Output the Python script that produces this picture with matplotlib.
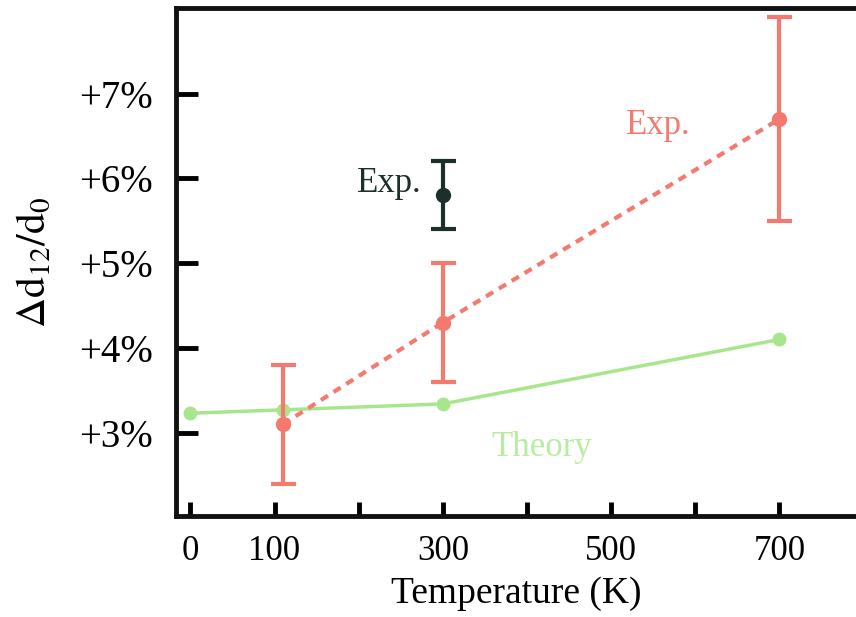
import matplotlib
matplotlib.use("Agg")
import matplotlib.pyplot as plt

plt.rcParams['font.family'] = ['Liberation Serif', 'DejaVu Serif']
plt.rcParams['mathtext.fontset'] = 'stix'

# Theory curve
theory_T = [0, 110, 300, 700]
theory_d = [3.23, 3.27, 3.34, 4.10]

# Experiment (dashed series)
exp_T = [110, 300, 700]
exp_d = [3.1, 4.3, 6.7]
exp_err_lo = [0.7, 0.7, 1.2]
exp_err_hi = [0.7, 0.7, 1.2]

# Single earlier experiment at room temperature
old_T = [300]
old_d = [5.8]
old_err = [0.4]

x_ticks = [0, 100, 200, 300, 400, 500, 600, 700]
x_labels = ['0', '100', '', '300', '', '500', '', '700']
y_ticks = [3, 4, 5, 6, 7]
y_labels = ['+3%', '+4%', '+5%', '+6%', '+7%']

red = '#f47a70'
green = '#a8e68e'
dark = '#1d2f2a'

fig = plt.figure(figsize=(8.56, 6.17), dpi=100)
ax = fig.add_axes([0.206, 0.164, 0.794, 0.823])

ax.plot(theory_T, theory_d, color=green, lw=2.5, marker='o', ms=9, zorder=2)
ax.errorbar(exp_T, exp_d, yerr=[exp_err_lo, exp_err_hi], color=red, lw=3,
            ls=(0, (2, 1.6)), marker='o', ms=10, capsize=9, capthick=3,
            elinewidth=3, zorder=3)
ax.errorbar(old_T, old_d, yerr=old_err, color=dark, lw=3, marker='o', ms=10,
            capsize=9, capthick=3, elinewidth=3, zorder=3)

ax.text(556, 6.63, 'Exp.', color=red, fontsize=25, ha='center', va='center')
ax.text(236, 5.94, 'Exp.', color=dark, fontsize=25, ha='center', va='center')
ax.text(418, 2.83, 'Theory', color='#b8eca2', fontsize=25, ha='center', va='center')

ax.set_xlim(-16.7, 791)
ax.set_ylim(2.02, 8.01)
ax.set_xticks(x_ticks)
ax.set_xticklabels(x_labels)
ax.set_yticks(y_ticks)
ax.set_yticklabels(y_labels)
ax.tick_params(axis='x', direction='in', length=10, width=3.5, labelsize=25, pad=14)
ax.tick_params(axis='y', direction='in', length=16, width=3.5, labelsize=28, pad=17)

ax.spines['right'].set_visible(False)
for side in ['left', 'top', 'bottom']:
    ax.spines[side].set_linewidth(3.5)
    ax.spines[side].set_color('#111111')

ax.set_xlabel('Temperature (K)', fontsize=27, labelpad=6)
ax.set_ylabel(r'$\Delta \mathrm{d}_{12}/\mathrm{d}_0$', fontsize=30, labelpad=18)

fig.savefig('out.png', dpi=100)
